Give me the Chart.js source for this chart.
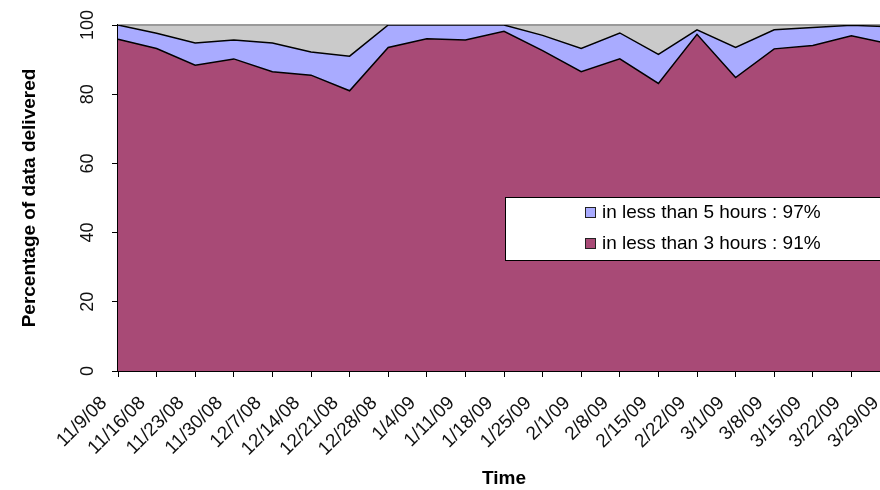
<!DOCTYPE html>
<html>
<head>
<meta charset="utf-8">
<script src="https://cdn.jsdelivr.net/npm/chart.js@4/dist/chart.umd.min.js"></script>
<style>
  html, body { margin: 0; padding: 0; background: #fff; overflow: hidden; }
  #wrap { width: 880px; height: 490px; overflow: hidden; position: relative; }
  canvas { display: block; }
</style>
</head>
<body>
<div id="wrap"><canvas id="chart" width="890" height="490"></canvas></div>
<script>
// Weekly delivery timeliness, Nov 2008 - Mar 2009
const weeks = ['11/9/08', '11/16/08', '11/23/08', '11/30/08', '12/7/08', '12/14/08', '12/21/08',
  '12/28/08', '1/4/09', '1/11/09', '1/18/09', '1/25/09', '2/1/09', '2/8/09', '2/15/09',
  '2/22/09', '3/1/09', '3/8/09', '3/15/09', '3/22/09', '3/29/09'];

// percentage of data delivered in less than 5 hours
const under5h = [100, 97.6, 94.8, 95.7, 94.8, 92.2, 91.0, 100, 100, 100, 100,
  97.0, 93.2, 97.7, 91.5, 98.6, 93.5, 98.6, 99.3, 99.9, 99.5];

// percentage of data delivered in less than 3 hours
const under3h = [95.9, 93.2, 88.4, 90.2, 86.5, 85.5, 81.0, 93.5, 96.0, 95.7, 98.2,
  92.6, 86.5, 90.2, 83.1, 97.3, 84.8, 93.1, 94.1, 96.9, 94.5];

const yTicks = [0, 20, 40, 60, 80, 100];

const FONT = '"Liberation Sans", Arial, sans-serif';
const mean = a => Math.round(a.reduce((s, v) => s + v, 0) / a.length);

const COLORS = { fast: '#A84A76', slow: '#A9ABFF', rest: '#CACACA' };

// gray plot background standing for the remainder up to 100 %
const plotBackground = {
  id: 'plotBackground',
  beforeDatasetsDraw(chart) {
    const { ctx, chartArea: a } = chart;
    ctx.save();
    ctx.fillStyle = COLORS.rest;
    ctx.fillRect(a.left, a.top, a.right - a.left, a.bottom - a.top);
    ctx.strokeStyle = '#9a9a9a';
    ctx.lineWidth = 2;
    ctx.beginPath();
    ctx.moveTo(a.left, a.top);
    ctx.lineTo(a.right, a.top);
    ctx.stroke();
    ctx.restore();
  }
};

// rotated tick labels on both axes and the boxed legend
const extras = {
  id: 'extras',
  afterDraw(chart) {
    const { ctx, chartArea: a } = chart;
    const y = chart.scales.y;
    const x = chart.scales.x;
    ctx.save();
    ctx.fillStyle = '#111';
    ctx.font = '18px ' + FONT;
    ctx.textAlign = 'center';
    ctx.textBaseline = 'middle';
    y.ticks.forEach(t => {
      const py = y.getPixelForValue(t.value);
      ctx.save();
      ctx.translate(88, py);
      ctx.rotate(-Math.PI / 2);
      ctx.fillText(String(t.value), 0, 0);
      ctx.restore();
    });

    ctx.font = '19px ' + FONT;
    ctx.textAlign = 'right';
    chart.data.labels.forEach((lab, i) => {
      const px = x.getPixelForValue(i);
      ctx.save();
      ctx.translate(px - 14, a.bottom + 29);
      ctx.rotate(-Math.PI / 4);
      ctx.fillText(lab, 0, 0);
      ctx.restore();
    });

    // legend box
    const bx = 505, by = 197, bh = 63;
    ctx.fillStyle = '#fff';
    ctx.fillRect(bx, by, a.right + 2 - bx, bh);
    ctx.strokeStyle = '#000';
    ctx.lineWidth = 1;
    ctx.strokeRect(bx + 0.5, by + 0.5, a.right + 2 - bx, bh);

    const entries = [chart.data.datasets[1], chart.data.datasets[0]];
    ctx.font = '19px ' + FONT;
    ctx.textAlign = 'left';
    entries.forEach((ds, i) => {
      const cy = 212 + i * 31;
      ctx.fillStyle = ds.backgroundColor;
      ctx.fillRect(585, cy - 5, 11, 11);
      ctx.strokeStyle = '#222';
      ctx.strokeRect(585.5, cy - 4.5, 10, 10);
      ctx.fillStyle = '#000';
      ctx.fillText(ds.label, 602, cy + 1);
    });
    ctx.restore();
  }
};

new Chart(document.getElementById('chart'), {
  type: 'line',
  data: {
    labels: weeks,
    datasets: [
      {
        label: 'in less than 3 hours : ' + mean(under3h) + '%',
        data: under3h,
        backgroundColor: COLORS.fast,
        borderColor: '#000',
        borderWidth: 1.5,
        fill: 'origin',
        pointRadius: 0,
        tension: 0,
        order: 1
      },
      {
        label: 'in less than 5 hours : ' + mean(under5h) + '%',
        data: under5h,
        backgroundColor: COLORS.slow,
        borderColor: '#000',
        borderWidth: 1.5,
        fill: 'origin',
        pointRadius: 0,
        tension: 0,
        order: 2
      }
    ]
  },
  options: {
    responsive: false,
    animation: false,
    layout: { padding: { top: 25, left: 0, right: 0, bottom: 0 } },
    plugins: { legend: { display: false }, tooltip: { enabled: false } },
    scales: {
      x: {
        offset: false,
        grid: { display: true, drawOnChartArea: false, drawTicks: true, tickLength: 6, color: '#000', offset: false },
        border: { display: true, color: '#000', width: 2 },
        ticks: { display: false, autoSkip: false },
        title: {
          display: true, text: 'Time', color: '#000',
          font: { family: FONT, size: 19, weight: 'bold' }, padding: { top: 0, bottom: 0 }
        },
        afterFit(s) { s.height = 119; s.paddingLeft = 0; s.paddingRight = 0; }
      },
      y: {
        min: 0, max: 100,
        afterBuildTicks(s) { s.ticks = yTicks.map(v => ({ value: v })); },
        grid: { display: true, drawOnChartArea: false, drawTicks: true, tickLength: 6, color: '#000' },
        border: { display: true, color: '#000', width: 1.5 },
        ticks: { display: false },
        title: {
          display: true, text: 'Percentage of data delivered', color: '#000',
          font: { family: FONT, size: 19, weight: 'bold' }, padding: { top: 18, bottom: 0 }
        },
        afterFit(s) { s.width = 118; }
      }
    }
  },
  plugins: [plotBackground, extras]
});
</script>
</body>
</html>
